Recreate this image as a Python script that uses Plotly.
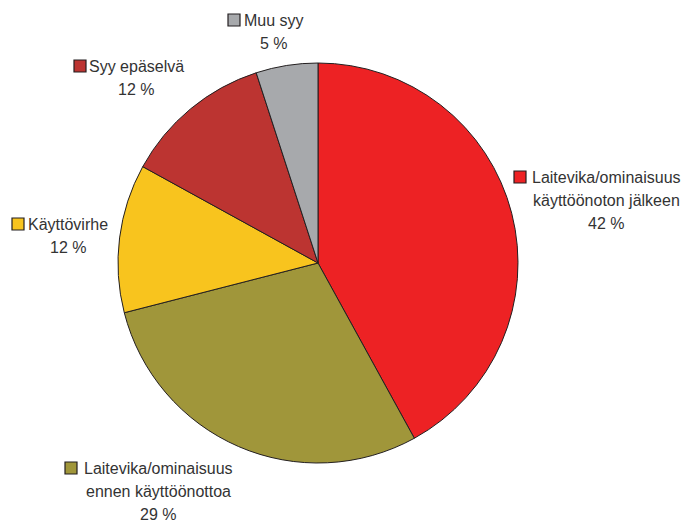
import plotly.graph_objects as go

OFF = 8  # page body margin pushes the plot 8px right and down
W, H = 690 - 2 * OFF, 520 - OFF

# data (clockwise from 12 o'clock)
categories = [
    "Laitevika/ominaisuus<br>käyttöönoton jälkeen",
    "Laitevika/ominaisuus<br>ennen käyttöönottoa",
    "Käyttövirhe",
    "Syy epäselvä",
    "Muu syy",
]
shares = [42, 29, 12, 12, 5]
colors = ["#ED2224", "#A0963A", "#F8C41E", "#BC3431", "#A7A9AC"]

# label placement in window pixels: (square left, first line y, text center x)
label_pos = [
    (514, 177, 606),
    (65, 468, 158),
    (12, 224, 68),
    (74, 66, 136),
    (228, 20, 274),
]

TEXT = "#333333"
FONT = "Liberation Sans, Arial, sans-serif"
LINE = 23


def px_x(x):
    return (x - OFF) / W


def px_y(y):
    return 1 - (y - OFF) / H


fig = go.Figure(
    go.Pie(
        values=shares,
        labels=[c.replace("<br>", " ") for c in categories],
        marker=dict(colors=colors, line=dict(color="#231F20", width=1)),
        sort=False,
        direction="clockwise",
        rotation=0,
        textinfo="none",
        hoverinfo="label+percent",
        showlegend=False,
        domain=dict(x=[px_x(118), px_x(518)], y=[px_y(463), px_y(63)]),
    )
)

for cat, val, col, (sq_x, y0, cx) in zip(categories, shares, colors, label_pos):
    lines = cat.split("<br>") + [f"{val} %"]
    for i, ln in enumerate(lines):
        fig.add_annotation(
            x=px_x(cx), y=px_y(y0 + i * LINE), xref="paper", yref="paper",
            text=ln, showarrow=False, xanchor="center", yanchor="middle",
            font=dict(family=FONT, size=16, color=TEXT),
        )
    fig.add_shape(
        type="rect", xref="paper", yref="paper",
        x0=px_x(sq_x), x1=px_x(sq_x + 12), y0=px_y(y0 - 6), y1=px_y(y0 + 6),
        fillcolor=col, line=dict(color="#231F20", width=1.2),
    )

fig.update_layout(
    width=W, height=H,
    margin=dict(l=0, r=0, t=0, b=0),
    paper_bgcolor="white",
    plot_bgcolor="white",
    font=dict(family=FONT, color=TEXT),
)

fig.write_html("out.html")
